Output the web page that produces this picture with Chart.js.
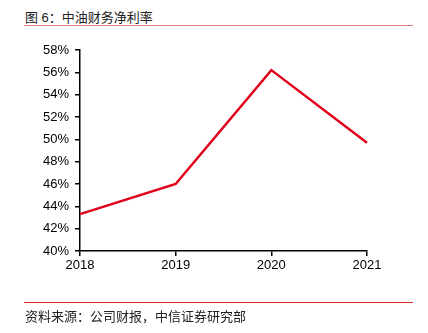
<!DOCTYPE html>
<html>
<head>
<meta charset="utf-8">
<script src="https://cdn.jsdelivr.net/npm/chart.js@4"></script>
<style>
  html, body { margin:0; padding:0; background:#fff; }
  body { width:428px; height:333px; position:relative; overflow:hidden; font-family:"Liberation Sans", Arial, "Noto Sans CJK SC", sans-serif; }
  #title { position:absolute; left:25px; top:7px; font-size:13px; color:#222; font-family:"Liberation Sans", Arial, "Noto Sans CJK SC", sans-serif; }
  #tline { position:absolute; left:24px; width:389px; top:25px; height:1px; background:#e07c80; }
  #fline { position:absolute; left:24px; width:389px; top:302px; height:1px; background:#d62a2a; }
  #foot { position:absolute; left:25px; top:306px; font-size:13px; color:#222; }
  #wrap { position:absolute; left:0; top:0; width:428px; height:333px; }
</style>
</head>
<body>
<div id="title">图 6：中油财务净利率</div>
<div id="tline"></div>
<div id="wrap"><canvas id="c"></canvas></div>
<div id="fline"></div>
<div id="foot">资料来源：公司财报，中信证券研究部</div>
<script>
const categories = ["2018", "2019", "2020", "2021"];
const netMargin = [43.3, 46.0, 56.2, 49.7];
const yTicks = [40, 42, 44, 46, 48, 50, 52, 54, 56, 58];

new Chart(document.getElementById('c'), {
  type: 'line',
  data: {
    labels: categories,
    datasets: [{
      data: netMargin,
      borderColor: '#e0001b',
      borderWidth: 2.5,
      pointRadius: 0,
      tension: 0,
      fill: false
    }]
  },
  options: {
    responsive: true,
    maintainAspectRatio: false,
    animation: false,
    devicePixelRatio: 1,
    layout: { padding: { left: 0, right: 61, top: 50, bottom: 52 } },
    plugins: { legend: { display: false }, tooltip: { enabled: false } },
    scales: {
      x: {
        offset: false,
        grid: { display: true, drawOnChartArea: false, drawTicks: true, tickLength: 5, color: '#000', lineWidth: 1.5 },
        border: { display: true, color: '#000', width: 1.5 },
        ticks: { color: '#000', font: { family: 'Liberation Sans, Arial', size: 13 }, padding: 2, maxRotation: 0 },
        afterFit: s => { s.height = 30; }
      },
      y: {
        min: 40, max: 58,
        afterBuildTicks: s => { s.ticks = yTicks.map(v => ({ value: v })); },
        grid: { display: true, drawOnChartArea: false, drawTicks: true, tickLength: 5, color: '#000', lineWidth: 1.5 },
        border: { display: true, color: '#000', width: 1.5 },
        ticks: { color: '#000', font: { family: 'Liberation Sans, Arial', size: 13 }, padding: 6, callback: v => v + '%' },
        afterFit: s => { s.width = 80; }
      }
    }
  }
});
</script>
</body>
</html>
